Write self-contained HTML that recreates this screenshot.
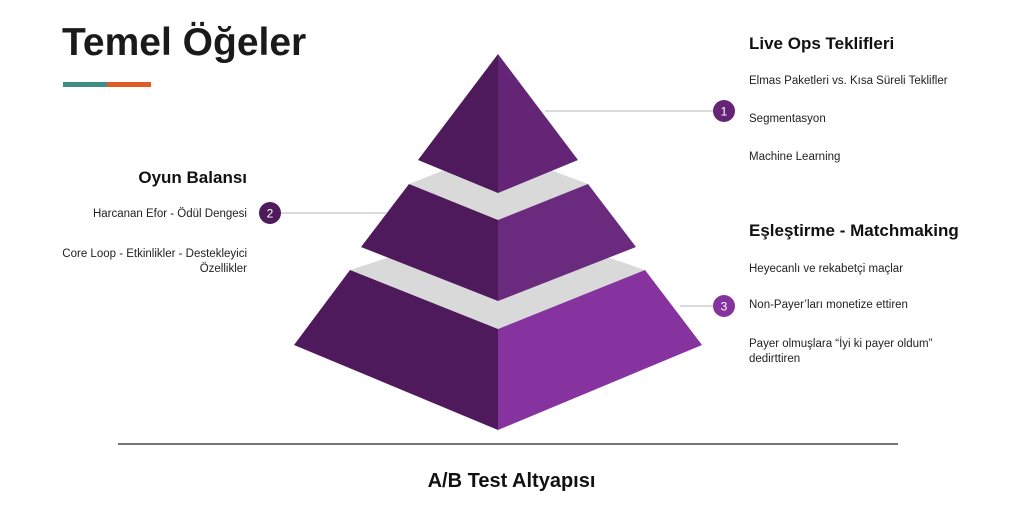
<!DOCTYPE html>
<html><head><meta charset="utf-8"><style>
body{margin:0;width:1023px;height:527px;background:#fff;position:relative;overflow:hidden;font-family:"Liberation Sans",Arial,sans-serif;color:#222}
.t{position:absolute;white-space:nowrap}
.h{font-weight:bold;font-size:17px;color:#111}
.i{font-size:11.5px;color:#222}
.r{text-align:right}
</style></head><body>
<div class="t" style="left:62px;top:21px;font-size:39px;font-weight:bold;color:#1a1a1a">Temel Öğeler</div>
<div style="position:absolute;left:63px;top:82px;width:44px;height:5px;background:#3d8f83"></div>
<div style="position:absolute;left:107px;top:82px;width:44px;height:5px;background:#e05b26"></div>
<svg width="1023" height="527" style="position:absolute;left:0;top:0">
<line x1="545" y1="111" x2="724" y2="111" stroke="#cfcfcf" stroke-width="1.5"/>
<line x1="270" y1="213" x2="386" y2="213" stroke="#cfcfcf" stroke-width="1.5"/>
<line x1="680" y1="306" x2="724" y2="306" stroke="#cfcfcf" stroke-width="1.5"/>
<polygon points="387,258 610,258 645,270 498,329 350,270" fill="#d9d9d9"/>
<polygon points="350,270 498,329 498,430 294,345" fill="#4f1a5c"/>
<polygon points="498,329 645,270 702,345 498,430" fill="#86339f"/>
<polygon points="442,171 553,171 588,184 498,220 409,184" fill="#d9d9d9"/>
<polygon points="409,184 498,220 498,301 361,247" fill="#4f1a5c"/>
<polygon points="498,220 588,184 636,247 498,301" fill="#6a2a7e"/>
<polygon points="498,54 498,193 418,160" fill="#4f1a5c"/>
<polygon points="498,54 578,160 498,193" fill="#642577"/>
<circle cx="724" cy="111" r="11" fill="#642577"/>
<circle cx="270" cy="213" r="11" fill="#4f1a5c"/>
<circle cx="724" cy="306" r="11" fill="#86339f"/>
<text x="724" y="115.5" fill="#fff" font-size="12" text-anchor="middle" font-family="Liberation Sans">1</text>
<text x="270" y="217.5" fill="#fff" font-size="12" text-anchor="middle" font-family="Liberation Sans">2</text>
<text x="724" y="310.5" fill="#fff" font-size="12" text-anchor="middle" font-family="Liberation Sans">3</text>
<line x1="118" y1="444" x2="898" y2="444" stroke="#222" stroke-width="1.2"/>
</svg>
<div class="t h" style="left:749px;top:34px">Live Ops Teklifleri</div>
<div class="t i" style="left:749px;top:75px">Elmas Paketleri vs. Kısa Süreli Teklifler</div>
<div class="t i" style="left:749px;top:113px">Segmentasyon</div>
<div class="t i" style="left:749px;top:151px">Machine Learning</div>
<div class="t h" style="left:749px;top:221px">Eşleştirme - Matchmaking</div>
<div class="t i" style="left:749px;top:263px">Heyecanlı ve rekabetçi maçlar</div>
<div class="t i" style="left:749px;top:299px">Non-Payer’ları monetize ettiren</div>
<div class="t i" style="left:749px;top:337px;line-height:15px">Payer olmuşlara “İyi ki payer oldum”<br>dedirttiren</div>
<div class="t h r" style="right:776px;top:168px">Oyun Balansı</div>
<div class="t i r" style="right:776px;top:208px">Harcanan Efor - Ödül Dengesi</div>
<div class="t i r" style="right:776px;top:247px;line-height:15px">Core Loop - Etkinlikler - Destekleyici<br>Özellikler</div>
<div class="t" style="left:0;width:1023px;text-align:center;top:470px;font-size:20px;font-weight:bold;color:#111">A/B Test Altyapısı</div>
</body></html>
